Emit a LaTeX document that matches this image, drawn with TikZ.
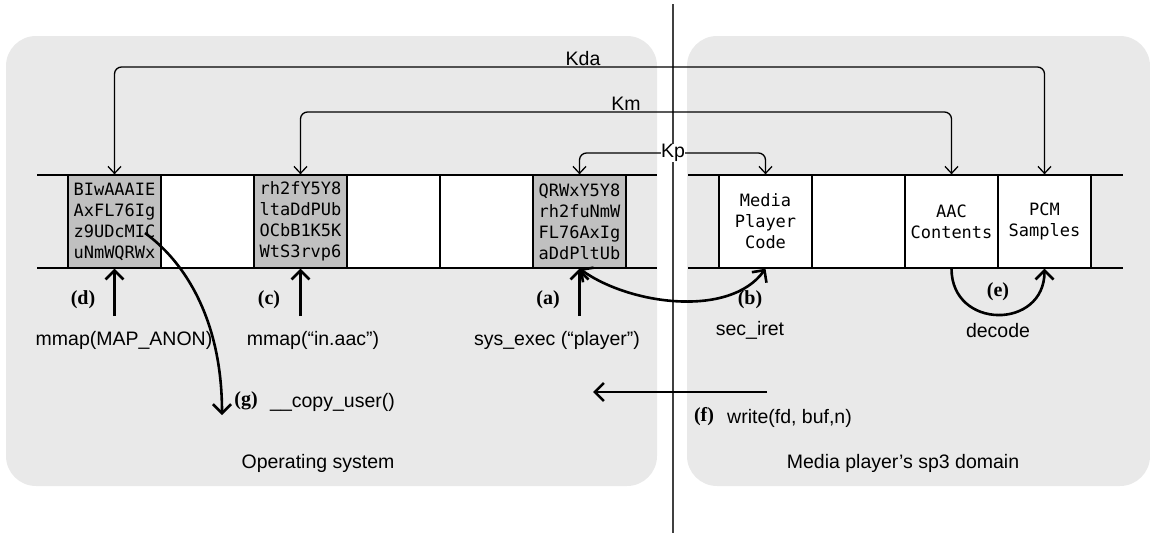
\documentclass[tikz,border=0pt]{standalone}
\usepackage{fontspec}
\setmainfont{Liberation Sans}
\newfontfamily\monof{DejaVu Sans Mono}
\newfontfamily\serifb{Liberation Serif}
\usetikzlibrary{arrows.meta}
\definecolor{panel}{HTML}{E9E9E9}
\definecolor{cellgray}{HTML}{C0C0C0}
\definecolor{divider}{HTML}{404040}
\begin{document}
\begin{tikzpicture}[x=1pt,y=-1pt,
  panelbox/.style={fill=panel, rounded corners=30pt},
  cellbox/.style={draw, line width=1.3pt, minimum width=93pt, minimum height=93pt, inner sep=0pt, align=center, font=\monof\fontsize{17}{21}\selectfont},
  graycell/.style={cellbox, fill=cellgray},
  whitecell/.style={cellbox, fill=white},
  stripline/.style={line width=1.3pt},
  keyline/.style={line width=1.3pt, rounded corners=7pt, {Straight Barb[length=7pt,width=13pt]}-{Straight Barb[length=7pt,width=13pt]}},
  keylabel/.style={font=\fontsize{19.5}{23}\selectfont, inner sep=1.5pt},
  bigarrow/.style={line width=2.6pt, -{Straight Barb[length=9pt,width=18pt]}},
  bigboth/.style={line width=2.6pt, {Straight Barb[length=9pt,width=18pt]}-{Straight Barb[length=9pt,width=18pt]}},
  steplabel/.style={font=\serifb\bfseries\fontsize{20}{24}\selectfont, inner sep=0pt},
  calltext/.style={font=\fontsize{19.5}{23}\selectfont, inner sep=0pt},
]
\useasboundingbox (0,0) rectangle (1150,533);
% panels
\path[panelbox] (6,36) rectangle (657,486);
\path[panelbox] (687,36) rectangle (1150,486);
\node[calltext] (oslabel) at (318,463) {Operating system};
\node[calltext] (mplabel) at (903,463) {Media player’s sp3 domain};
% divider
\draw[divider, line width=2pt] (673,4) -- (673,533);
% strips
\draw[stripline] (37,175) -- (657,175) (37,268) -- (657,268);
\draw[stripline] (688,175) -- (1123,175) (688,268) -- (1123,268);
% left cells
\node[graycell] (dcell) at (114.5,221.5) {BIwAAAIE\\AxFL76Ig\\z9UDcMIC\\uNmWQRWx};
\node[whitecell] (e1) at (207.5,221.5) {};
\node[graycell] (ccell) at (300.5,221.5) {rh2fY5Y8\\ltaDdPUb\\OCbB1K5K\\WtS3rvp6};
\node[whitecell] (e2) at (393.5,221.5) {};
\node[whitecell] (e3) at (486.5,221.5) {};
\node[graycell] (acell) at (579.5,221.5) {QRWxY5Y8\\rh2fuNmW\\FL76AxIg\\aDdPltUb};
% right cells
\node[whitecell] (mpc) at (765.5,221.5) {Media\\Player\\Code};
\node[whitecell] (e4) at (858.5,221.5) {};
\node[whitecell] (aac) at (951.5,221.5) {AAC\\Contents};
\node[whitecell] (pcm) at (1044.5,221.5) {PCM\\Samples};
% key connectors
\coordinate (kda) at (583,67);
\coordinate (km) at (626,112);
\coordinate (kp) at (673,153);
\draw[keyline] (dcell.north) |- (kda) -| (pcm.north);
\draw[keyline] (ccell.north) |- (km) -| (aac.north);
\draw[keyline] (acell.north) |- (kp) -| (mpc.north);
\node[keylabel, anchor=south] (kdalabel) at (kda) {Kda};
\node[keylabel, anchor=south] (kmlabel) at (km) {Km};
\node[keylabel, fill=white, inner sep=0.5pt] (kplabel) at (kp) {Kp};
% lower calls
\coordinate (dsrc) at (114.5,316);
\coordinate (csrc) at (300.5,316);
\coordinate (asrc) at (579.5,316);
\draw[bigarrow] (dsrc) -- (dcell.south);
\draw[bigarrow] (csrc) -- (ccell.south);
\draw[bigarrow] (asrc) -- (acell.south);
\node[steplabel] (dlab) at (83,300) {(d)};
\node[steplabel] (clab) at (269,300) {(c)};
\node[steplabel] (alab) at (548,300) {(a)};
\node[steplabel] (blab) at (750,300) {(b)};
\node[steplabel] (elab) at (998,292) {(e)};
\node[steplabel] (flab) at (704,417) {(f)};
\node[steplabel] (glab) at (246,401) {(g)};
\node[calltext] (dtxt) at (124,340) {mmap(MAP\_ANON)};
\node[calltext] (ctxt) at (313,340) {mmap(“in.aac”)};
\node[calltext] (atxt) at (557,340) {sys\_exec (“player”)};
\node[calltext] (btxt) at (750,330) {sec\_iret};
\node[calltext] (etxt) at (998,331) {decode};
\node[calltext, anchor=west] (ftxt) at (727,418) {write(fd, buf,n)};
\node[calltext, anchor=west] (gtxt) at (270,402) {\_\_copy\_user()};
% (a)-(b)
\draw[bigboth] (acell.south) .. controls (630,305) and (730,318) .. (mpc.south);
% (e)
\draw[bigarrow] (aac.south) .. controls (951.5,330) and (1044.5,330) .. (pcm.south);
% (f)
\coordinate (fsrc) at (767,392);
\coordinate (fdst) at (593,392);
\draw[bigarrow] (fsrc) -- (fdst);
% (g)
\coordinate (gstart) at ([shift={(30.5,11.5)}]dcell.center);
\coordinate (gend) at (222,415);
\draw[bigarrow] (gstart) .. controls (185,262) and (222,320) .. (gend);
\end{tikzpicture}
\end{document}
